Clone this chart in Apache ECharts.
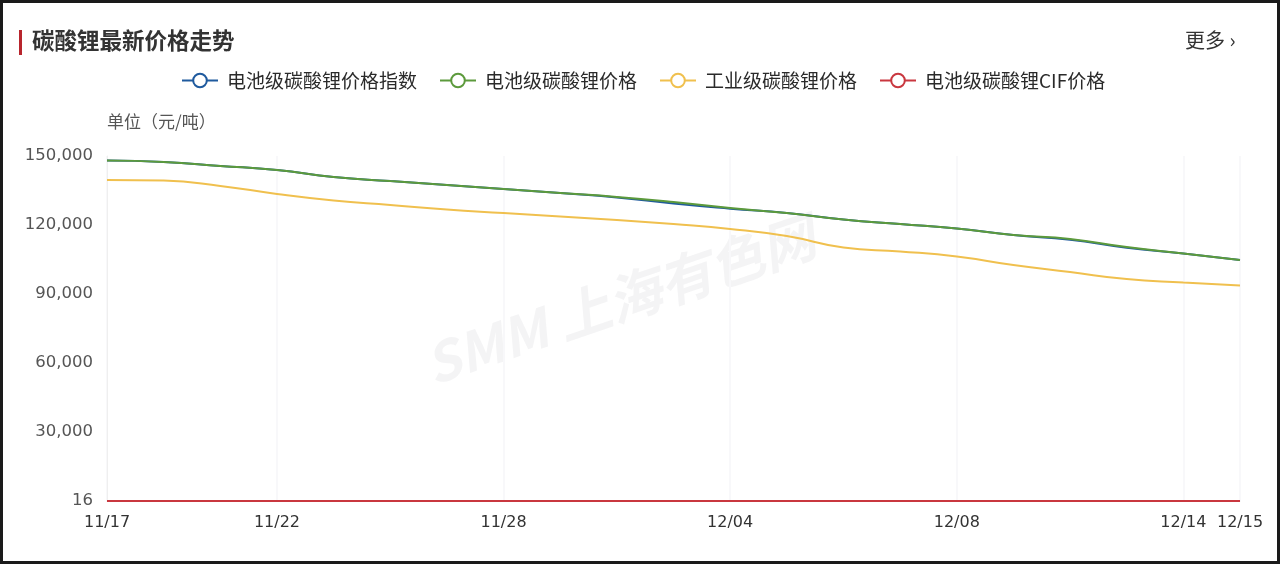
<!DOCTYPE html>
<html>
<head>
<meta charset="utf-8">
<script src="https://cdn.jsdelivr.net/npm/echarts@6/dist/echarts.min.js"></script>
<style>
  html, body { margin: 0; padding: 0; background: #fff; }
  #frame { width: 1280px; height: 564px; box-sizing: border-box; border: 3px solid #1a1a1a; position: relative; background: #fff; }
  #chart { position: absolute; left: -3px; top: -3px; width: 1280px; height: 564px; }
</style>
</head>
<body>
<div id="frame"><div id="chart"></div></div>
<script>
const categories = ['11/17','11/20','11/21','11/22','11/23','11/24','11/27','11/28','11/29','11/30','12/01','12/04','12/05','12/06','12/07','12/08','12/11','12/12','12/13','12/14','12/15'];
const shownLabels = ['11/17','11/22','11/28','12/04','12/08','12/14','12/15'];
const yTickLabels = ['16','30,000','60,000','90,000','120,000','150,000'];

const seriesNames = ['电池级碳酸锂价格指数','电池级碳酸锂价格','工业级碳酸锂价格','电池级碳酸锂CIF价格'];
const batteryIndex = [148000,147400,145700,143900,140900,139100,137400,135650,133900,132000,129300,127100,125200,122400,120400,118500,115650,113600,110100,107600,104800];
const batteryPrice = [148000,147400,145700,143900,140900,139100,137400,135650,133900,132200,130000,127400,125200,122400,120400,118500,115650,113900,110400,107600,104800];
const industrialPrice = [139600,139300,137000,133500,130650,128700,126700,125200,123700,122200,120400,118300,115200,110200,108500,106300,102600,99550,96500,95000,93700];
const cifPrice = [16,16,16,16,16,16,16,16,16,16,16,16,16,16,16,16,16,16,16,16,16];

const colors = ['#1f5a9e','#5c9a3c','#f0c04e','#c9373f'];

const chart = echarts.init(document.getElementById('chart'));
const dataSets = [batteryIndex, batteryPrice, industrialPrice, cifPrice];
const order = [0, 2, 3, 1];
const numFont = '"DejaVu Sans", "Liberation Sans", sans-serif';
chart.setOption({
  backgroundColor: 'transparent',
  animation: false,
  textStyle: { fontFamily: '"Noto Sans CJK SC", "Noto Sans", sans-serif' },
  graphic: [
    { type: 'rect', left: 19, top: 30, shape: { width: 3, height: 25 }, style: { fill: '#b8252d' } },
    { type: 'text', left: 32, top: 29, style: { text: '碳酸锂最新价格走势', fill: '#333', font: 'bold 22.5px "Noto Sans CJK SC", sans-serif' } },
    { type: 'text', left: 1185, top: 30, style: { text: '更多 ›', fill: '#333', font: '20px "Noto Sans CJK SC", sans-serif' } },
    { type: 'text', left: 107, top: 113, style: { text: '单位（元/吨）', fill: '#555', font: '17px "Noto Sans CJK SC", sans-serif' } },
    { type: 'text', x: 620, y: 300, rotation: 0.33, style: { text: 'SMM 上海有色网', fill: 'rgba(200,200,205,0.2)', font: 'italic bold 54px "Noto Sans CJK SC", sans-serif', align: 'center', verticalAlign: 'middle' } }
  ],
  legend: {
    top: 66,
    left: 176,
    itemGap: 22,
    itemWidth: 36,
    itemHeight: 17,
    textStyle: { fontSize: 19, color: '#2a2a2a', padding: [0, 0, 0, 4] },
    data: seriesNames
  },
  grid: { left: 107, right: 40, top: 156, bottom: 63, containLabel: false },
  xAxis: {
    type: 'category',
    data: categories,
    boundaryGap: false,
    axisLine: { show: true, lineStyle: { color: '#efefef' } },
    axisTick: { show: false },
    splitLine: { show: true, interval: (i, v) => shownLabels.includes(v), lineStyle: { color: '#f8f8fa', width: 2 } },
    axisLabel: {
      interval: (i, v) => shownLabels.includes(v),
      color: '#333', fontSize: 16, margin: 14, fontFamily: numFont
    }
  },
  yAxis: {
    type: 'value',
    min: 0, max: 150000, interval: 30000,
    axisLine: { show: true, lineStyle: { color: '#efefef' } },
    axisTick: { show: false },
    splitLine: { show: false },
    axisLabel: {
      color: '#555', fontSize: 16.5, margin: 14, fontFamily: numFont,
      formatter: (v) => yTickLabels[Math.round(v / 30000)]
    }
  },
  series: order.map(k => ({
    name: seriesNames[k],
    type: 'line',
    data: dataSets[k],
    smooth: true,
    symbol: 'emptyCircle',
    symbolSize: 12,
    showSymbol: false,
    z: k === 1 ? 3 : 2,
    itemStyle: { color: colors[k], borderWidth: 1.5 },
    lineStyle: { width: 2, color: colors[k] }
  }))
});
</script>
</body>
</html>
